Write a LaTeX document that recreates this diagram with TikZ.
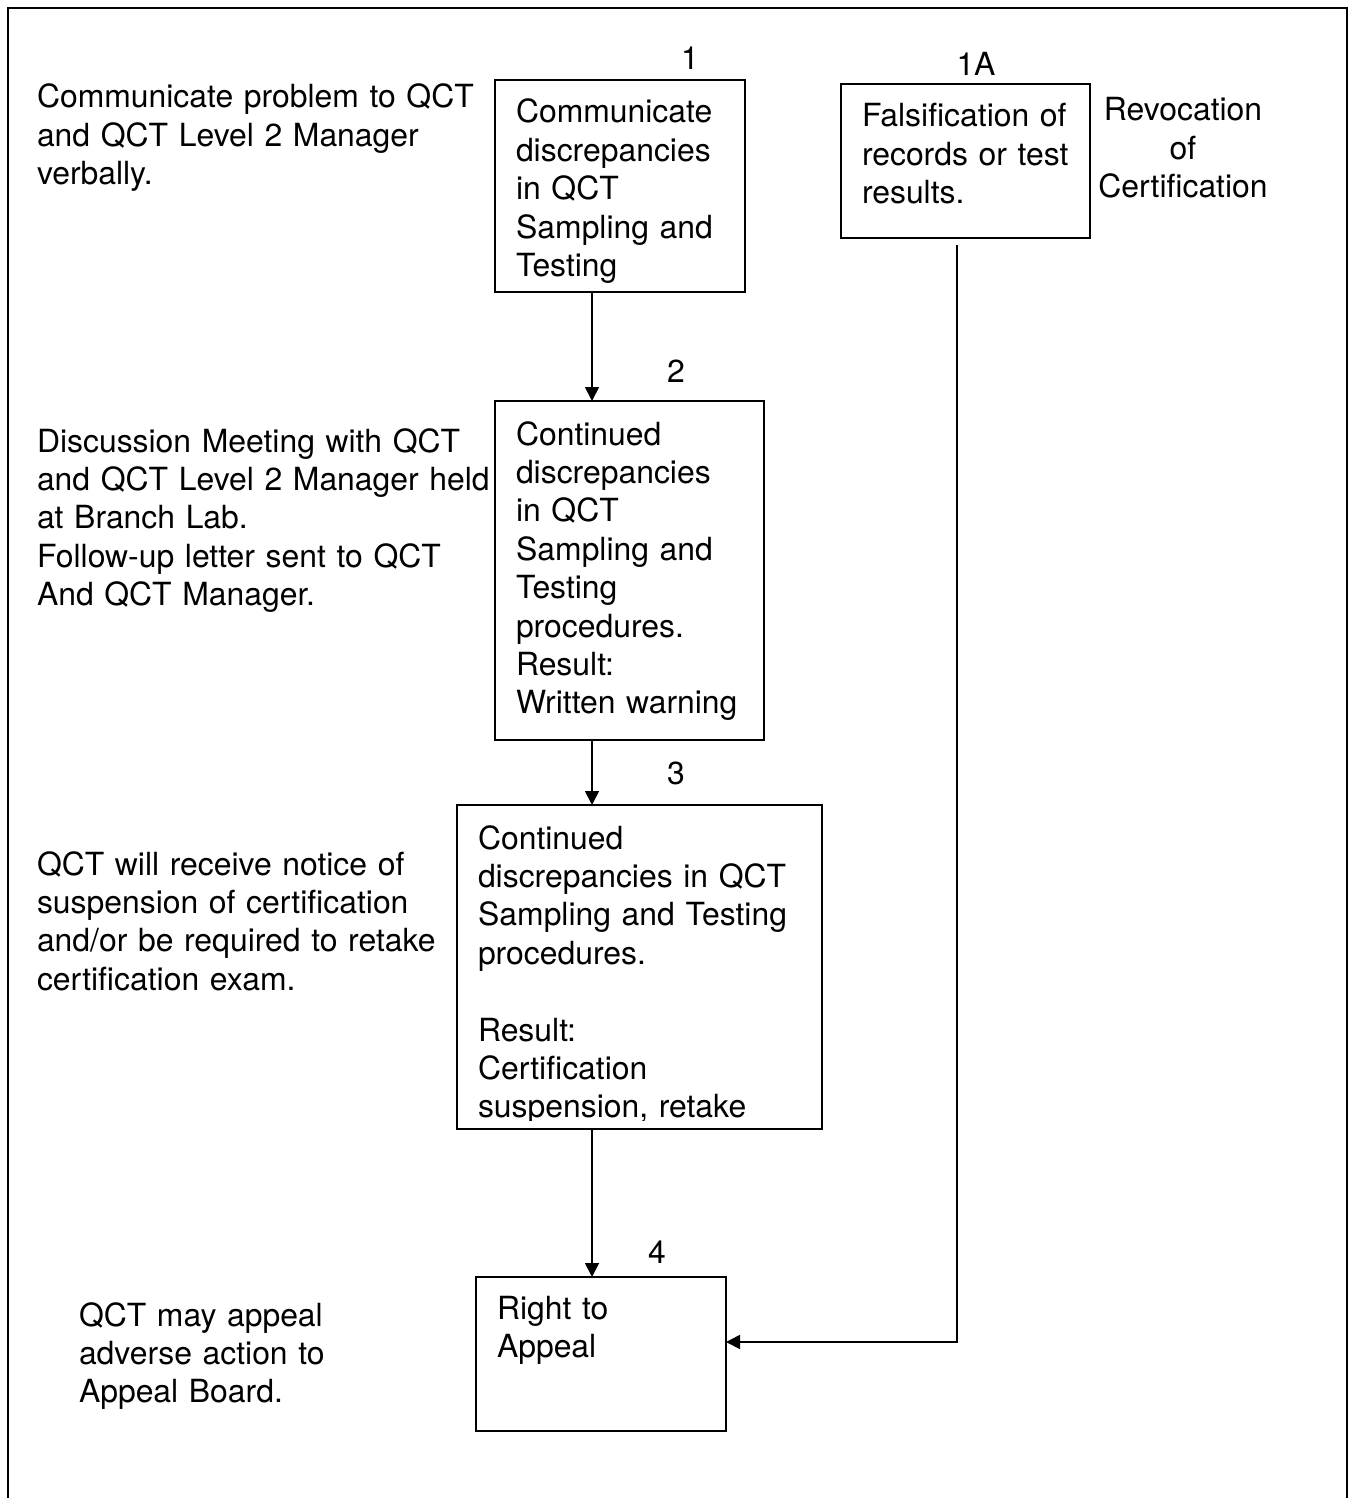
\documentclass[tikz,border=0pt]{standalone}
\usepackage{fontspec}
\setmainfont{TeX Gyre Heros}
\usetikzlibrary{arrows.meta}
\tikzset{
  box/.style={draw, line width=1.8pt, rectangle, inner sep=0, outer sep=0, anchor=north west},
  txt/.style={anchor=base west, inner sep=0, outer sep=0, align=left, text width=600pt,
    font=\fontsize{31.9}{38.4}\selectfont},
  ctxt/.style={anchor=base, inner sep=0, outer sep=0, align=center, text width=240pt,
    font=\fontsize{31.9}{38.4}\selectfont},
  num/.style={anchor=base, inner sep=0, outer sep=0, font=\fontsize{31.9}{38.4}\selectfont},
  arr/.style={line width=1.8pt, -{Triangle[length=14pt,width=14pt]}},
  ln/.style={line width=1.8pt},
}
\begin{document}
\begin{tikzpicture}[x=1pt,y=-1pt]
\useasboundingbox (0,0) rectangle (1354,1498);
% outer frame (open at bottom)
\draw[ln] (8,1500) -- (8,8) -- (1347,8) -- (1347,1500);

% boxes
\node[box, minimum width=250, minimum height=212] (b1) at (495,80) {};
\node[box, minimum width=249, minimum height=154] (b1a) at (841,84) {};
\node[box, minimum width=269, minimum height=339] (b2) at (495,401) {};
\node[box, minimum width=365, minimum height=324] (b3) at (457,805) {};
\node[box, minimum width=250, minimum height=154] (b4) at (476,1277) {};

% numbers
\node[num] (n1) at (690,70) {1};
\node[num] (n1a) at (976,76) {1A};
\node[num] (n2) at (676,382) {2};
\node[num] (n3) at (676,784) {3};
\node[num] (n4) at (657,1263) {4};

% box texts
\node[txt] (t1) at (516,123) {Communicate\\discrepancies\\in QCT\\Sampling and\\Testing};
\node[txt] (t1a) at (862,127) {Falsification of\\records or test\\results.};
\node[txt] (t2) at (516,445) {Continued\\discrepancies\\in QCT\\Sampling and\\Testing\\procedures.\\Result:\\Written warning};
\begin{scope}
\clip (b3.north west) rectangle ([yshift=9pt]b3.south east);
\node[txt] (t3) at (478,849) {Continued\\discrepancies in QCT\\Sampling and Testing\\procedures.\\[38.4pt]Result:\\Certification\\suspension, retake};
\end{scope}
\node[txt] (t4) at (497,1319) {Right to\\Appeal};

% side texts
\node[txt] (s1) at (37,108) {Communicate problem to QCT\\and QCT Level 2 Manager\\verbally.};
\node[txt] (s2) at (37,452) {Discussion Meeting with QCT\\and QCT Level 2 Manager held\\at Branch Lab.\\Follow-up letter sent to QCT\\And QCT Manager.};
\node[txt] (s3) at (37,875) {QCT will receive notice of\\suspension of certification\\and/or be required to retake\\certification exam.};
\node[txt] (s4) at (79,1326) {QCT may appeal\\adverse action to\\Appeal Board.};
\node[ctxt] (s5) at (1183,121) {Revocation\\of\\Certification};

% connectors
\coordinate (ax) at (592,0);
\coordinate (rx) at (957,0);
\coordinate (ry) at (0,1342);
\coordinate (rtop) at (957,245);
\draw[arr] (b1.south -| ax) -- (b2.north -| ax);
\draw[arr] (b2.south -| ax) -- (b3.north -| ax);
\draw[arr] (b3.south -| ax) -- (b4.north -| ax);
\draw[arr] (rtop) -- (rx |- ry) -- (b4.east |- ry);
\end{tikzpicture}
\end{document}
